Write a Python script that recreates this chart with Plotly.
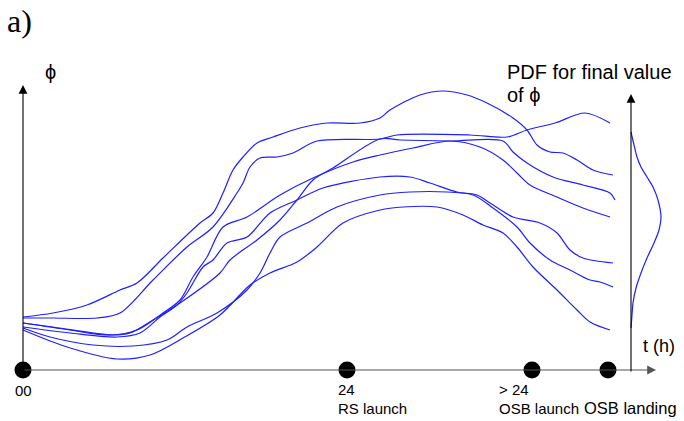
import plotly.graph_objects as go

# ---------------- data (schematic time axis t, quantity phi) ----------------
t_A = [23, 53, 87, 120, 137, 163, 200, 213, 223, 233, 243, 257, 273, 300, 327, 360, 380, 390, 420, 443, 467, 487, 513, 527, 537, 550, 563, 577, 593, 613]
phi_A = [53, 57, 65, 80, 87, 112, 147, 157, 177, 200, 213, 227, 233, 242, 247, 247, 252, 260, 275, 279, 275, 267, 252, 240, 225, 218, 217, 210, 200, 195]

t_B = [23, 53, 97, 120, 153, 187, 213, 237, 243, 250, 260, 277, 293, 317, 380, 397, 470, 507, 527, 555, 585, 610]
phi_B = [52, 52, 52, 57, 90, 123, 143, 177, 187, 203, 212, 213, 217, 229, 231, 235, 235, 233, 240, 247, 257, 247]

t_C = [23, 53, 113, 130, 153, 180, 220, 230, 257, 280, 297, 313, 333, 380, 400, 450, 503, 513, 527, 553, 583, 610, 615]
phi_C = [47, 43, 35, 37, 50, 67, 97, 110, 130, 150, 170, 190, 202, 231, 230, 229, 229, 218, 207, 193, 185, 177, 170]

t_D = [23, 70, 110, 137, 163, 180, 193, 207, 223, 247, 280, 313, 353, 380, 413, 450, 480, 503, 517, 530, 557, 583, 610]
phi_D = [47, 40, 35, 40, 57, 70, 93, 113, 143, 153, 175, 192, 208, 215, 222, 229, 223, 210, 197, 185, 173, 162, 153]

t_E = [23, 70, 117, 140, 160, 177, 187, 203, 213, 227, 247, 270, 297, 323, 380, 410, 430, 457, 477, 490, 513, 540, 557, 570, 583, 613]
phi_E = [43, 37, 33, 37, 53, 65, 77, 103, 110, 127, 133, 157, 170, 182, 193, 193, 187, 178, 175, 167, 153, 147, 137, 120, 112, 107]

t_F = [23, 50, 93, 133, 167, 187, 217, 247, 260, 270, 280, 307, 337, 380, 410, 447, 473, 493, 517, 530, 550, 570, 590, 600, 613]
phi_F = [42, 33, 25, 24, 30, 43, 57, 80, 97, 117, 133, 147, 163, 175, 178, 178, 175, 162, 143, 127, 110, 100, 90, 88, 83]

t_G = [23, 67, 117, 150, 183, 220, 250, 270, 297, 317, 343, 380, 403, 437, 463, 483, 503, 517, 533, 557, 577, 590, 610]
phi_G = [40, 23, 11, 15, 32, 55, 85, 97, 108, 123, 147, 160, 163, 163, 155, 145, 137, 123, 103, 80, 60, 48, 40]

curves = [(t_A, phi_A), (t_B, phi_B), (t_C, phi_C), (t_D, phi_D),
          (t_E, phi_E), (t_F, phi_F), (t_G, phi_G)]

# PDF of final phi value (density drawn sideways from the right axis)
pdf_phi = [238, 225, 213, 203, 193, 183, 170, 153, 140, 127, 112, 97, 82, 67, 55, 42]
pdf_density = [0, 3, 6, 10, 16, 22, 27, 30, 28, 23, 16, 10, 5, 2, 1, 0]
pdf_axis_t = 631

# events on the time axis
event_t = [23, 347, 532, 608]
event_tick = ["00", "24", "> 24", ""]
event_name = ["", "RS launch", "OSB launch", "OSB landing"]

BLUE = "#1f1fff"
FONT = "Liberation Sans, Arial, sans-serif"

fig = go.Figure()

for t, p in curves:
    fig.add_trace(go.Scatter(x=t, y=p, mode="lines", line=dict(color=BLUE, width=1.2, shape="spline", smoothing=0.9),
                             hoverinfo="skip", showlegend=False))

fig.add_trace(go.Scatter(x=[pdf_axis_t + d for d in pdf_density], y=pdf_phi, mode="lines",
                         line=dict(color=BLUE, width=1.2, shape="spline", smoothing=0.9),
                         hoverinfo="skip", showlegend=False))

# axes as arrows
arrows = [
    dict(x=656, y=0, ax=23, ay=0, color="#555555"),     # time axis
    dict(x=23, y=285, ax=23, ay=0, color="black"),      # phi axis
    dict(x=pdf_axis_t, y=276, ax=pdf_axis_t, ay=-3, color="black"),  # PDF axis
]
for a in arrows:
    fig.add_annotation(x=a["x"], y=a["y"], ax=a["ax"], ay=a["ay"], xref="x", yref="y", axref="x", ayref="y",
                       showarrow=True, arrowhead=2, arrowsize=1.6, arrowwidth=1.1, arrowcolor=a["color"], text="")

fig.add_trace(go.Scatter(x=event_t, y=[0] * len(event_t), mode="markers",
                         marker=dict(color="black", size=17), hoverinfo="skip", showlegend=False))

def txt(x, y, s, size=15, anchor="left", family=FONT):
    fig.add_annotation(x=x, y=y, xref="x", yref="y", text=s, showarrow=False, xanchor=anchor, yanchor="middle",
                       font=dict(family=family, size=size, color="black"))

txt(23, -20, event_tick[0], anchor="center")
txt(336, -19, event_tick[1])
txt(336, -38, event_name[1])
txt(497, -19, event_tick[2])
txt(497, -38, event_name[2])
txt(582, -38, event_name[3], size=16.5)

txt(43, 298, "ϕ", size=20)
txt(505, 298, "PDF for final value", size=20)
txt(505, 275, "of ϕ", size=20)
txt(641, 24, "t (h)", size=18)
txt(5, 349, "a)", size=32, family="Liberation Serif, DejaVu Serif, serif")

fig.update_layout(width=684, height=421, margin=dict(l=0, r=0, t=0, b=0),
                  paper_bgcolor="white", plot_bgcolor="white",
                  xaxis=dict(range=[0, 684], visible=False, fixedrange=True),
                  yaxis=dict(range=[-51, 370], visible=False, fixedrange=True))

fig.write_html("out.html", config={"displayModeBar": False, "staticPlot": True})

# remove the browser's default 8px body margin so the figure fills the window
with open("out.html", encoding="utf-8") as f:
    html = f.read()
html = html.replace("<head>", "<head><style>html,body{margin:0;padding:0;overflow:hidden;}</style>", 1)
with open("out.html", "w", encoding="utf-8") as f:
    f.write(html)
